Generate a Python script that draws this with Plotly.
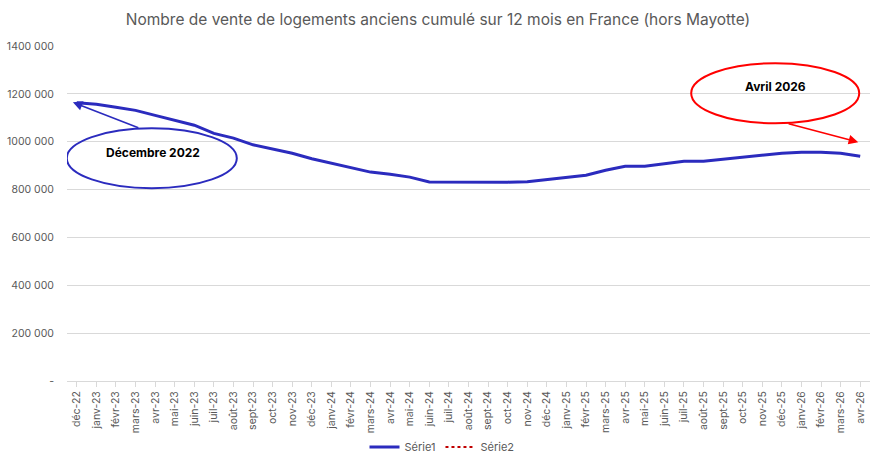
import plotly.graph_objects as go

months = ["déc-22", "janv-23", "févr-23", "mars-23", "avr-23", "mai-23", "juin-23", "juil-23",
          "août-23", "sept-23", "oct-23", "nov-23", "déc-23", "janv-24", "févr-24", "mars-24",
          "avr-24", "mai-24", "juin-24", "juil-24", "août-24", "sept-24", "oct-24", "nov-24",
          "déc-24", "janv-25", "févr-25", "mars-25", "avr-25", "mai-25", "juin-25", "juil-25",
          "août-25", "sept-25", "oct-25", "nov-25", "déc-25", "janv-26", "févr-26", "mars-26",
          "avr-26"]

serie1 = [1163000, 1157000, 1144000, 1131000, 1110000, 1090000, 1069000, 1035000,
          1015000, 987000, 969000, 952000, 929000, 910000, 893000, 873000,
          864000, 852000, 832000, 832000, 829000, 829000, 831000, 833000,
          843000, 852000, 860000, 881000, 897000, 897000, 906000, 918000,
          918000, 927000, 935000, 944000, 952000, 956000, 956000, 952000,
          939000]

serie2 = [None] * len(months)

ytick_vals = [0, 200000, 400000, 600000, 800000, 1000000, 1200000, 1400000]
ytick_text = ["-", "200 000", "400 000", "600 000", "800 000", "1000 000", "1200 000", "1400 000"]

title = "Nombre de vente de logements anciens cumulé sur 12 mois en France (hors Mayotte)"
note_start = "Décembre 2022"
note_end = "Avril 2026"

BLUE = "#2B2BBE"
RED = "#FF0000"
GRAY = "#595959"
FONT = "Inter, Lato, Arial, sans-serif"

fig = go.Figure()
fig.add_trace(go.Scatter(x=list(range(len(months))), y=serie1, name="Série1", mode="lines",
                         line=dict(color=BLUE, width=3)))
fig.add_trace(go.Scatter(x=list(range(len(months))), y=serie2, name="Série2", mode="lines",
                         line=dict(color="#C00000", width=2, dash="dot")))

# Ellipses (data coordinates)
fig.add_shape(type="circle", xref="x", yref="y", x0=-0.51, x1=8.17, y0=806000, y1=1056000,
              line=dict(color=BLUE, width=2), layer="above")
fig.add_shape(type="circle", xref="x", yref="y", x0=31.37, x1=39.95, y0=1077000, y1=1328000,
              line=dict(color=RED, width=2), layer="above")

# Text labels
fig.add_annotation(x=3.9, y=955000, xref="x", yref="y", text="<b>" + note_start + "</b>",
                   showarrow=False, font=dict(size=12, color="#000000", family=FONT))
fig.add_annotation(x=35.7, y=1230000, xref="x", yref="y", text="<b>" + note_end + "</b>",
                   showarrow=False, font=dict(size=12, color="#000000", family=FONT))

# Arrows
fig.add_annotation(x=-0.2, y=1165000, ax=3.22, ay=1056000, xref="x", yref="y", axref="x", ayref="y",
                   text="", showarrow=True, arrowhead=2, arrowsize=1.2, arrowwidth=1.6, arrowcolor=BLUE)
fig.add_annotation(x=39.9, y=998000, ax=36.27, ay=1077000, xref="x", yref="y", axref="x", ayref="y",
                   text="", showarrow=True, arrowhead=2, arrowsize=1.2, arrowwidth=1.6, arrowcolor=RED)

fig.update_layout(
    width=876, height=463,
    margin=dict(l=67, r=6, t=46, b=82, autoexpand=False),
    paper_bgcolor="white", plot_bgcolor="white",
    font=dict(family=FONT, color=GRAY, size=11),
    title=dict(text=title, x=0.5, xanchor="center", y=0.958, yanchor="middle",
               font=dict(size=15.5, color=GRAY, family=FONT)),
    showlegend=True,
    legend=dict(orientation="h", x=0.467, xanchor="center", y=-0.197, yanchor="middle",
                font=dict(size=11, color=GRAY), bgcolor="rgba(0,0,0,0)"),
)

fig.update_xaxes(
    tickmode="array", tickvals=list(range(len(months))), ticktext=months,
    range=[-0.5, len(months) - 0.5], tickangle=-90, automargin=False,
    showgrid=False, showline=True, linecolor="#D9D9D9", linewidth=1,
    ticks="outside", ticklen=5, tickcolor="#D9D9D9",
    tickfont=dict(size=10.5, color=GRAY), zeroline=False,
)
fig.update_yaxes(
    range=[0, 1400000], tickmode="array", tickvals=ytick_vals, ticktext=ytick_text,
    showgrid=True, gridcolor="#D9D9D9", gridwidth=1, zeroline=False, automargin=False,
    showline=False, ticks="", tickfont=dict(size=10.5, color=GRAY),
    ticklabelstandoff=12,
)

fig.write_html("out.html")
